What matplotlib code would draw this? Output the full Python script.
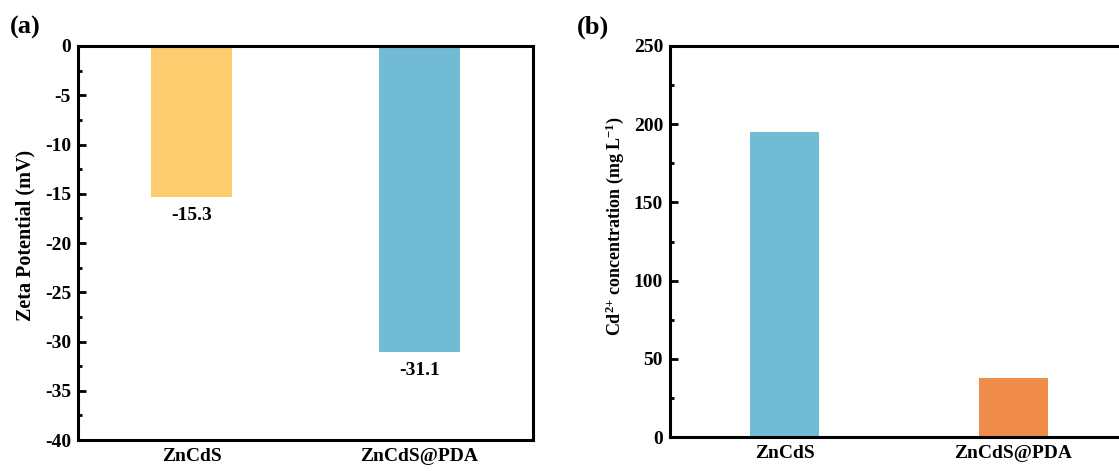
import matplotlib
matplotlib.use("Agg")
import matplotlib.pyplot as plt
from matplotlib.ticker import MultipleLocator

plt.rcParams['font.family'] = ['Liberation Serif', 'DejaVu Serif']
plt.rcParams['font.weight'] = 'bold'
plt.rcParams['axes.unicode_minus'] = False
plt.rcParams['mathtext.fontset'] = 'custom'
plt.rcParams['mathtext.rm'] = 'Liberation Serif:bold'
plt.rcParams['mathtext.bf'] = 'Liberation Serif:bold'
plt.rcParams['mathtext.default'] = 'rm'

categories = ["ZnCdS", "ZnCdS@PDA"]
zeta_values = [-15.3, -31.1]
cd_values = [195, 37.5]
zeta_colors = ["#FDCC6E", "#72BBD5"]
cd_colors = ["#72BBD5", "#EF8C4A"]

W, H = 1119, 471
fig = plt.figure(figsize=(W/100, H/100), dpi=100)

def fx(px): return px / W
def fy(py): return 1 - py / H

ax1 = fig.add_axes([fx(78), fy(440), fx(533) - fx(78), fy(46) - fy(440)])
ax2 = fig.add_axes([fx(670), fy(437), fx(1128) - fx(670), fy(46) - fy(437)])

x = list(range(len(categories)))

ax1.bar(x, zeta_values, width=0.355, color=zeta_colors)
ax1.set_xlim(-0.5, 1.5)
ax1.set_ylim(-40, 0)
ax1.yaxis.set_major_locator(MultipleLocator(5))
ax1.yaxis.set_minor_locator(MultipleLocator(2.5))
ax1.set_ylabel("Zeta Potential (mV)", fontsize=14.5, fontweight='bold')
ax1.yaxis.set_label_coords(fx(35), fy(235), transform=fig.transFigure)
for xi, v in zip(x, zeta_values):
    ax1.text(xi, v - 1.0, f"{v:.1f}", ha='center', va='top', fontsize=14, fontweight='bold')

ax2.bar(x, cd_values, width=0.305, color=cd_colors)
ax2.set_xlim(-0.5, 1.5)
ax2.set_ylim(0, 250)
ax2.yaxis.set_major_locator(MultipleLocator(50))
ax2.yaxis.set_minor_locator(MultipleLocator(25))
ax2.set_ylabel(r"Cd$^{2{+}}$ concentration (mg L$^{{-}1}$)", fontsize=13, fontweight='bold')
ax2.yaxis.set_label_coords(fx(626), fy(226), transform=fig.transFigure)

for ax in (ax1, ax2):
    ax.set_xticks(x)
    ax.set_xticklabels(categories, fontsize=14, fontweight='bold')
    ax.tick_params(axis='x', length=0, pad=6)
    ax.tick_params(axis='y', which='major', direction='in', length=6, width=2, labelsize=14, pad=5)
    ax.tick_params(axis='y', which='minor', direction='in', length=3, width=2)
    for s in ax.spines.values():
        s.set_linewidth(2.2)
    for lab in ax.get_yticklabels():
        lab.set_fontweight('bold')

fig.text(fx(10), fy(27), "(a)", fontsize=19, fontweight='bold', va='center', ha='left')
fig.text(fx(577), fy(27), "(b)", fontsize=19, fontweight='bold', va='center', ha='left')

fig.savefig("out.png", dpi=100)
